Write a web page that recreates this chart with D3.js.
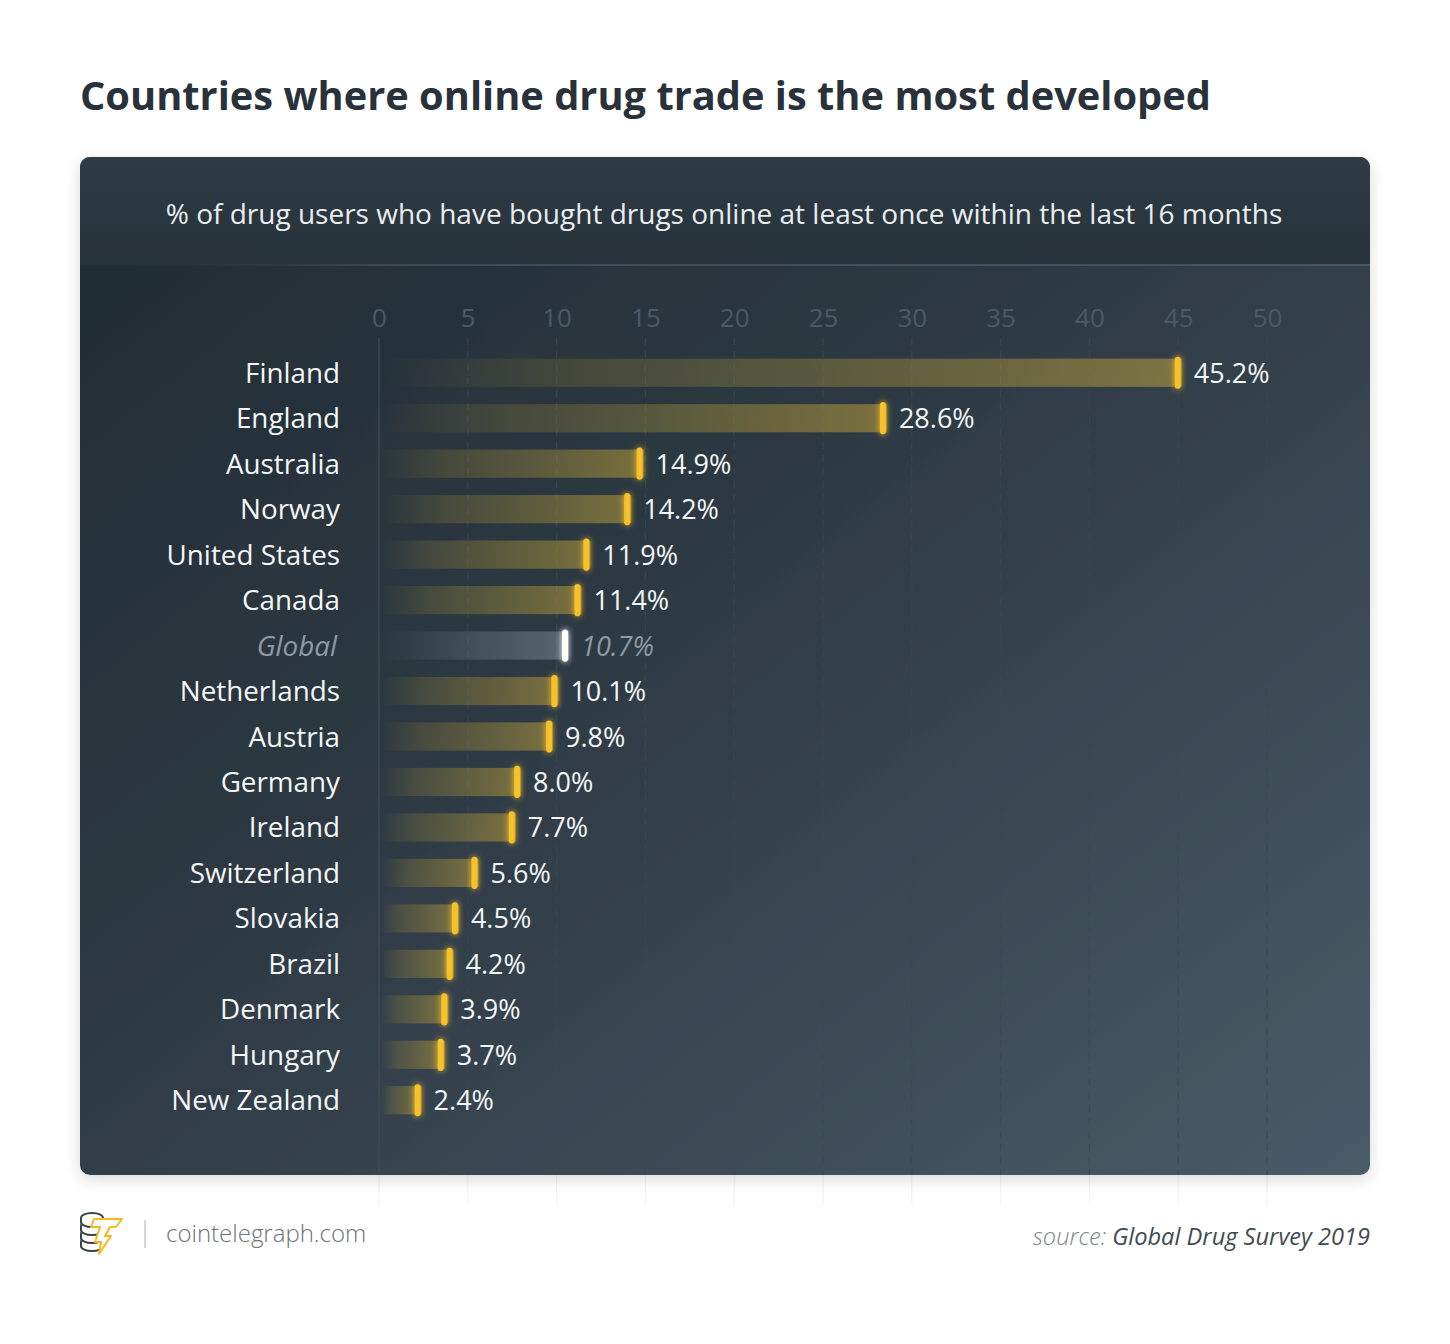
<!DOCTYPE html>
<html><head><meta charset="utf-8">
<script src="https://cdn.jsdelivr.net/npm/d3@7"></script>
<style>
html,body{margin:0;padding:0;background:#fff;}
svg{display:block;font-family:"Open Sans",sans-serif;}
</style></head>
<body>
<svg id="chart" width="1450" height="1344"></svg>
<script>
const countries = ["Finland","England","Australia","Norway","United States","Canada","Global","Netherlands","Austria","Germany","Ireland","Switzerland","Slovakia","Brazil","Denmark","Hungary","New Zealand"];
const values = [45.2,28.6,14.9,14.2,11.9,11.4,10.7,10.1,9.8,8.0,7.7,5.6,4.5,4.2,3.9,3.7,2.4];
const ticks = [0,5,10,15,20,25,30,35,40,45,50];
const highlight = "Global";

const svg = d3.select("#chart");
const defs = svg.append("defs");

const bg = defs.append("linearGradient").attr("id","bg").attr("x1","0").attr("y1","0").attr("x2","1").attr("y2","1");
bg.append("stop").attr("offset","0").attr("stop-color","#222b32");
bg.append("stop").attr("offset","0.45").attr("stop-color","#2e3a44");
bg.append("stop").attr("offset","1").attr("stop-color","#4a5b69");

const hdr = defs.append("linearGradient").attr("id","hdr").attr("x1","0").attr("y1","0").attr("x2","0").attr("y2","1");
hdr.append("stop").attr("offset","0").attr("stop-color","#2f3c45");
hdr.append("stop").attr("offset","1").attr("stop-color","#27323a");

const sep = defs.append("linearGradient").attr("id","sep").attr("x1","0").attr("x2","1");
sep.append("stop").attr("offset","0").attr("stop-color","#3e4b55").attr("stop-opacity",0);
sep.append("stop").attr("offset","0.2").attr("stop-color","#3e4b55").attr("stop-opacity",1);
sep.append("stop").attr("offset","1").attr("stop-color","#46545f").attr("stop-opacity",1);

const barG = defs.append("linearGradient").attr("id","barY").attr("x1","0").attr("x2","1");
barG.append("stop").attr("offset","0").attr("stop-color","#b59a35").attr("stop-opacity",0);
barG.append("stop").attr("offset","0.25").attr("stop-color","#b59a35").attr("stop-opacity",0.2);
barG.append("stop").attr("offset","1").attr("stop-color","#c9a83a").attr("stop-opacity",0.5);

const barW = defs.append("linearGradient").attr("id","barW").attr("x1","0").attr("x2","1");
barW.append("stop").attr("offset","0").attr("stop-color","#8fa0ad").attr("stop-opacity",0);
barW.append("stop").attr("offset","1").attr("stop-color","#8fa0ad").attr("stop-opacity",0.45);

const shadow = defs.append("filter").attr("id","shadow").attr("x","-5%").attr("y","-5%").attr("width","110%").attr("height","115%");
shadow.append("feDropShadow").attr("dx",0).attr("dy",4).attr("stdDeviation",8).attr("flood-color","#000").attr("flood-opacity",0.15);

const glow = defs.append("filter").attr("id","glow").attr("x","-200%").attr("y","-50%").attr("width","500%").attr("height","200%");
glow.append("feGaussianBlur").attr("stdDeviation",3).attr("result","b");
const fm = glow.append("feMerge");
fm.append("feMergeNode").attr("in","b");
fm.append("feMergeNode").attr("in","SourceGraphic");

svg.append("text").attr("x",80).attr("y",110).attr("font-size",39.8).attr("font-weight",700)
  .attr("fill","#29323a").text("Countries where online drug trade is the most developed");

const cx=80, cy=157, cw=1290, ch=1018;

const x = d3.scaleLinear().domain([0,50]).range([379,1267]);
const y = d3.scaleBand().domain(countries).range([350,1123]).paddingInner(0.38).paddingOuter(0.19);

// faint grid extension below card
svg.append("g").selectAll("line").data(ticks).join("line")
  .attr("x1",d=>x(d)).attr("x2",d=>x(d)).attr("y1",1175).attr("y2",1205)
  .attr("stroke","#f3f4f5").attr("stroke-width",1.2);

svg.append("rect").attr("x",cx).attr("y",cy).attr("width",cw).attr("height",ch).attr("rx",10)
  .attr("fill","url(#bg)").attr("filter","url(#shadow)");
const clip = defs.append("clipPath").attr("id","cardclip");
clip.append("rect").attr("x",cx).attr("y",cy).attr("width",cw).attr("height",ch).attr("rx",10);
svg.append("rect").attr("x",cx).attr("y",cy).attr("width",cw).attr("height",108).attr("fill","url(#hdr)")
  .attr("clip-path","url(#cardclip)");
svg.append("rect").attr("x",183).attr("y",264).attr("width",1187).attr("height",2).attr("fill","url(#sep)");

svg.append("text").attr("x",724).attr("y",224).attr("text-anchor","middle").attr("font-size",28)
  .attr("fill","#e9edf0").text("% of drug users who have bought drugs online at least once within the last 16 months");

svg.append("g").attr("clip-path","url(#cardclip)").selectAll("line").data(ticks).join("line")
  .attr("x1",d=>x(d)).attr("x2",d=>x(d)).attr("y1",338).attr("y2",1205)
  .attr("stroke",d=>d===0?"#3c4952":"#3a4853").attr("stroke-width",d=>d===0?2:1.2)
  .attr("stroke-dasharray",d=>d===0?null:"7,6").attr("opacity",0.75);

const axis = d3.axisTop(x).tickValues(ticks).tickSize(0).tickPadding(0);
const ag = svg.append("g").attr("transform","translate(0,327)").call(axis);
ag.select(".domain").remove();
ag.selectAll("text").attr("font-size",26).attr("fill","#4a5a66").attr("font-family","Open Sans, sans-serif");

const rows = svg.append("g").selectAll("g").data(countries.map((c,i)=>({c,v:values[i]}))).join("g");
rows.append("rect")
  .attr("x",x(0)+2).attr("y",d=>y(d.c)).attr("height",y.bandwidth())
  .attr("width",d=>x(d.v)-x(0)-2)
  .attr("fill",d=>d.c===highlight?"url(#barW)":"url(#barY)");
rows.append("rect")
  .attr("x",d=>x(d.v)-7).attr("y",d=>y(d.c)-2).attr("width",6).attr("height",y.bandwidth()+4).attr("rx",3)
  .attr("fill",d=>d.c===highlight?"#ffffff":"#f7c12a").attr("filter","url(#glow)");
rows.append("text")
  .attr("x",d=>x(d.v)+12).attr("y",d=>y(d.c)+y.bandwidth()/2+10)
  .attr("font-size",27).attr("font-style",d=>d.c===highlight?"italic":"normal")
  .attr("fill",d=>d.c===highlight?"#8e9aa3":"#f4f6f7")
  .text(d=>d.v.toFixed(1)+"%");
rows.append("text")
  .attr("x",d=>d.c===highlight?337:340).attr("y",d=>y(d.c)+y.bandwidth()/2+10)
  .attr("text-anchor","end").attr("font-size",27.8)
  .attr("font-style",d=>d.c===highlight?"italic":"normal")
  .attr("fill",d=>d.c===highlight?"#8e9aa3":"#f4f6f7")
  .text(d=>d.c);

const logo = svg.append("g").attr("transform","translate(80,1214)").attr("stroke-width",2).attr("stroke-linejoin","round");
[24,16,8,0].forEach(dy=>{
  logo.append("path").attr("d",`M1 ${8+dy} a11 5 0 0 0 22 0 v-4 a11 5 0 0 0 -22 0 Z`)
    .attr("stroke","#39434b").attr("fill","#fff");
});
logo.append("path").attr("d","M14 5 L42 5 L36 13 L30 13 L25 22 L31 22 L19 40 L21 28 L15 28 L20 13 L11 13 Z")
  .attr("stroke","#f4b820").attr("fill","#fff");
svg.append("line").attr("x1",145).attr("x2",145).attr("y1",1220).attr("y2",1248).attr("stroke","#c7cbce").attr("stroke-width",1.5);
svg.append("text").attr("x",166).attr("y",1242).attr("font-size",24).attr("font-weight",300).attr("fill","#6a737a").text("cointelegraph.com");

const src = svg.append("text").attr("x",1370).attr("y",1245).attr("text-anchor","end").attr("font-size",23.6).attr("font-style","italic");
src.append("tspan").attr("fill","#7b848b").attr("font-weight",300).text("source: ");
src.append("tspan").attr("fill","#3f4a53").text("Global Drug Survey 2019");
</script>
</body></html>
